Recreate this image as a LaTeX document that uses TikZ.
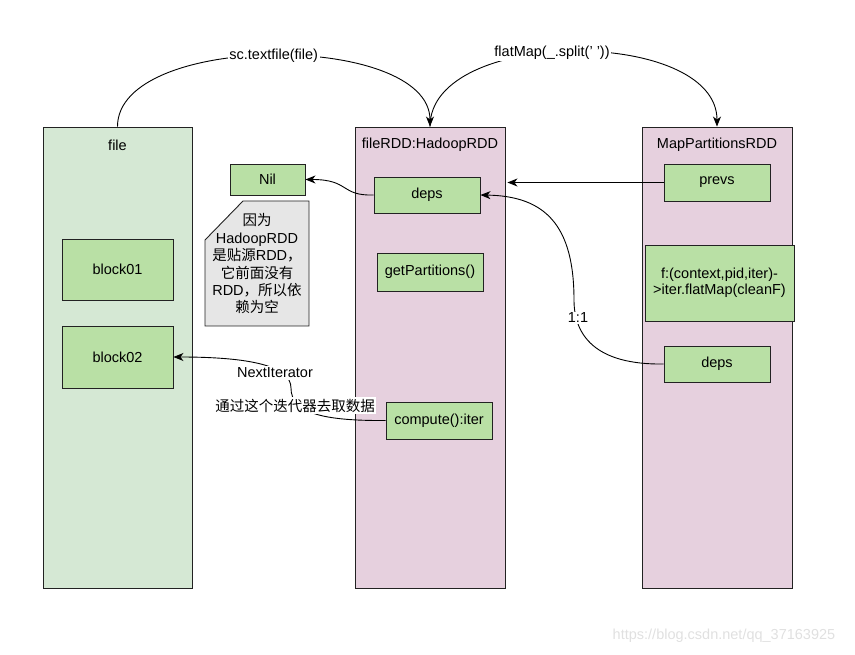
\documentclass[tikz,border=0pt]{standalone}
\usepackage{fontspec}
\setmainfont{Liberation Sans}
\newfontfamily\cjk{Noto Sans CJK SC}
\usetikzlibrary{arrows.meta}
\definecolor{colgreen}{HTML}{D5E8D4}
\definecolor{boxgreen}{HTML}{B9E0A5}
\definecolor{colpink}{HTML}{E6D0DE}
\definecolor{notegray}{HTML}{E6E6E6}
\definecolor{edge}{HTML}{222222}
\begin{document}
\begin{tikzpicture}[x=1pt,y=-1pt,
  every node/.style={font=\fontsize{14.5}{17.4}\selectfont, inner sep=0pt},
  column/.style={draw=edge, line width=0.9pt},
  gcol/.style={column, fill=colgreen},
  pcol/.style={column, fill=colpink},
  box/.style={draw=edge, line width=0.9pt, fill=boxgreen, align=center},
  notebox/.style={draw=edge, line width=0.9pt, fill=notegray},
  arr/.style={draw=black, line width=0.9pt, -{Stealth[length=10pt,width=8pt,inset=3pt]}},
  lab/.style={fill=white, inner sep=1.5pt}
]
\useasboundingbox (0,0) rectangle (855,655);
% columns
\node[gcol, minimum width=149pt, minimum height=461pt] (fileCol) at (117.5,357.5) {};
\node[pcol, minimum width=150pt, minimum height=461pt] (rddCol) at (430,357.5) {};
\node[pcol, minimum width=150pt, minimum height=461pt] (mapCol) at (717,357.5) {};
\node (fileT) at (117.5,145) {file};
\node (rddT) at (430,145) {fileRDD:HadoopRDD};
\node (mapT) at (717,145) {MapPartitionsRDD};
% inner boxes
\node[box, minimum width=111pt, minimum height=61pt] (b1) at (117.5,269.5) {block01};
\node[box, minimum width=111pt, minimum height=62pt] (b2) at (117.5,357) {block02};
\node[box, minimum width=75pt, minimum height=31pt] (nil) at (267.5,179.5) {Nil};
\node[box, minimum width=106pt, minimum height=36pt] (deps) at (427,195) {deps};
\node[box, minimum width=106pt, minimum height=38pt] (gp) at (430,272) {getPartitions()};
\node[box, minimum width=106pt, minimum height=37pt] (comp) at (439,420.5) {compute():iter};
\node[box, minimum width=106pt, minimum height=37pt] (prevs) at (717,182.5) {prevs};
\node[box, minimum width=149pt, minimum height=76pt, font=\fontsize{14.5}{15.5}\selectfont] (fbox) at (719.5,283) {f:(context,pid,iter)-\\>iter.flatMap(cleanF)};
\node[box, minimum width=106pt, minimum height=36pt] (deps2) at (717,364) {deps};
% note
\draw[notebox] (205,240) -- (243,201) -- (309,201) -- (309,326) -- (205,326) -- cycle;
\node[align=center] (note) at (257,264) {{\cjk 因为}\\HadoopRDD\\{\cjk 是贴源}RDD{\cjk ，}\\{\cjk 它前面没有}\\RDD{\cjk ，所以依}\\{\cjk 赖为空}};
% connectors
\coordinate (rddEdge) at (rddCol.east |- prevs.west);
\draw[arr] (fileCol.north) .. controls (117.5,32) and (430,32) .. (rddCol.north)
  node[lab, pos=0.5] (l1) {sc.textfile(file)};
\draw[arr] (rddCol.north) .. controls (430,27) and (717,27) .. (mapCol.north)
  node[lab, pos=0.45] (l2) {flatMap(\_.split(' '))};
\draw[arr] (prevs.west) -- ([xshift=2pt]rddEdge);
\draw[arr] (deps.west) .. controls (340,196) and (350,179.5) .. (nil.east);
\draw[arr] (deps2.west) .. controls (595,365) and (574,335) .. (574,300)
  .. controls (574,225) and (545,196) .. (deps.east);
\node[lab] (l3) at (578,318) {1:1};
\draw[arr] (comp.west) .. controls (320,421) and (291,412) .. (291,388)
  .. controls (291,366) and (250,357) .. (b2.east);
\node[lab] (l4) at (275,373) {NextIterator};
\node[lab] (l5) at (295,405.5) {\cjk 通过这个迭代器去取数据};
% watermark
\node[text=black!12] (wm) at (724,636) {https://blog.csdn.net/qq\_37163925};
\end{tikzpicture}
\end{document}
